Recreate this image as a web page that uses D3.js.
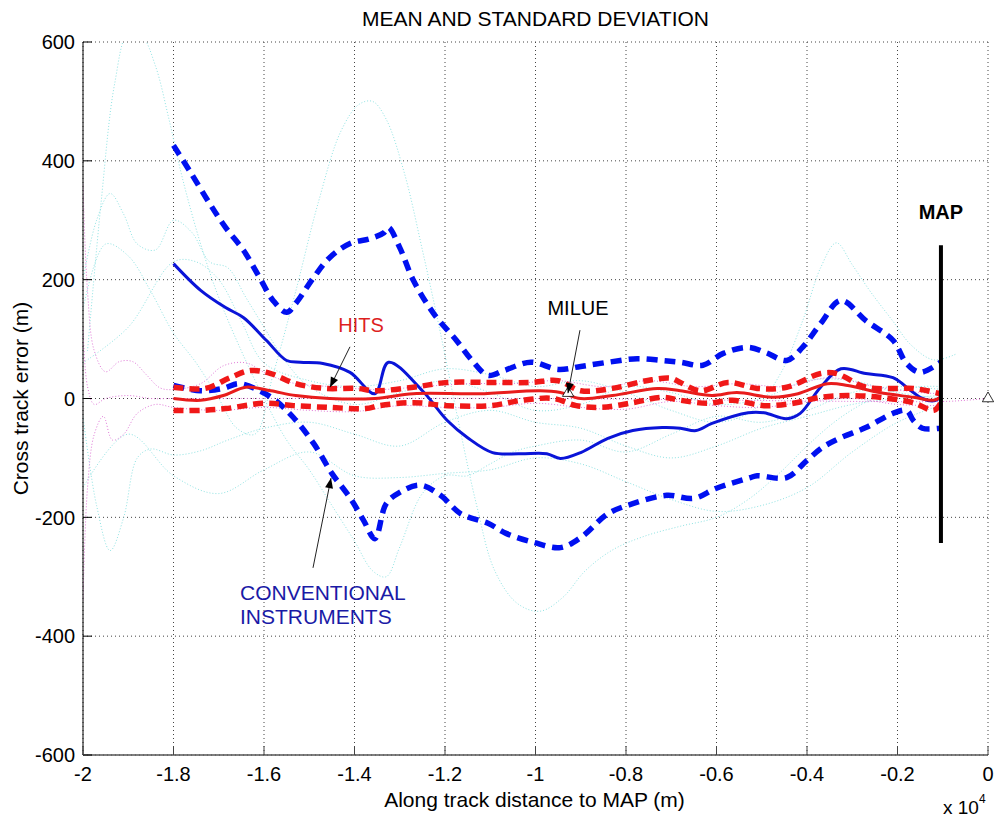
<!DOCTYPE html>
<html>
<head>
<meta charset="utf-8">
<script src="https://cdn.jsdelivr.net/npm/d3@7"></script>
<style>
  body { margin: 0; background: #fff; }
  svg text { font-family: "Liberation Sans", Arial, Helvetica, sans-serif; }
</style>
</head>
<body>
<svg id="chart" width="995" height="818"></svg>
<script>
// ---- data (along track distance in m, cross track error in m) ----
const xTicks = [-20000, -18000, -16000, -14000, -12000, -10000, -8000, -6000, -4000, -2000, 0];
const yTicks = [-600, -400, -200, 0, 200, 400, 600];

const convMean = [[-18000,227],[-17400,182],[-16850,153],[-16450,136],[-15950,98],[-15500,64],[-15200,61],[-14700,59],[-14100,44],[-13550,8],[-13250,61],[-12500,13],[-11950,-37],[-11500,-66],[-10950,-91],[-10350,-93],[-9750,-93],[-9450,-101],[-9000,-91],[-8400,-67],[-7850,-54],[-7200,-49],[-6800,-50],[-6450,-54],[-6100,-42],[-5300,-24],[-4950,-24],[-4450,-34],[-4150,-25],[-3700,19],[-3250,50],[-2700,42],[-2100,35],[-1700,13],[-1450,0],[-1200,-4],[-1050,2]];

const convUpper = [[-18000,426],[-17650,384],[-17200,328],[-16850,288],[-16450,249],[-16100,204],[-15800,165],[-15500,145],[-15300,160],[-14900,204],[-14550,237],[-14100,261],[-13650,269],[-13350,279],[-13250,288],[-13000,254],[-12700,199],[-12250,143],[-11750,98],[-11400,64],[-11050,39],[-10700,47],[-10100,61],[-9500,49],[-9000,54],[-8400,61],[-7750,67],[-7200,64],[-6800,61],[-6300,56],[-5850,76],[-5300,86],[-4900,77],[-4450,64],[-4100,86],[-3700,126],[-3250,165],[-2700,131],[-2100,98],[-1800,59],[-1500,44],[-1050,61]];

const convLower = [[-18000,22],[-17400,13],[-16900,17],[-16550,25],[-16100,13],[-15750,-3],[-15350,-32],[-14900,-76],[-14500,-126],[-14100,-167],[-13800,-205],[-13550,-236],[-13300,-177],[-13000,-158],[-12550,-146],[-12100,-163],[-11650,-194],[-11050,-210],[-10650,-227],[-10050,-242],[-9450,-251],[-9000,-234],[-8400,-194],[-7850,-177],[-7100,-163],[-6500,-168],[-6000,-151],[-5250,-133],[-5100,-130],[-4450,-133],[-4000,-104],[-3650,-82],[-3250,-66],[-2700,-49],[-2100,-25],[-1800,-20],[-1650,-37],[-1450,-50],[-1050,-50]];

const hitsMean = [[-18000,0],[-17400,-3],[-16900,5],[-16400,19],[-15850,13],[-15300,5],[-14550,0],[-13550,0],[-12700,8],[-11250,8],[-9900,13],[-9450,10],[-9000,0],[-8300,5],[-7300,17],[-6800,13],[-6100,5],[-5550,10],[-4750,2],[-4200,8],[-3550,25],[-3100,22],[-2400,10],[-1650,2],[-1200,-3],[-1050,2]];

const hitsUpper = [[-18000,19],[-17300,17],[-16750,35],[-16300,47],[-15850,42],[-15300,25],[-14650,17],[-13950,17],[-13550,13],[-12700,19],[-11950,27],[-11000,27],[-10100,27],[-9500,30],[-9000,13],[-8300,17],[-7550,30],[-7000,34],[-6800,27],[-6350,13],[-5750,27],[-5100,17],[-4450,19],[-3700,42],[-3350,42],[-2700,19],[-2000,17],[-1650,17],[-1050,8]];

const hitsLower = [[-18000,-20],[-17400,-20],[-16850,-17],[-16000,-8],[-15350,-12],[-14550,-15],[-13750,-17],[-13450,-12],[-12700,-7],[-11950,-12],[-11000,-12],[-10300,-3],[-9600,0],[-9100,-12],[-8550,-15],[-7850,-7],[-7200,2],[-6800,-3],[-6200,-8],[-5650,-3],[-4950,-12],[-4300,-8],[-3700,2],[-3100,5],[-2400,2],[-1650,-7],[-1200,-20],[-1050,-8]];

// individual conventional runs (faint)
const conv1 = [[-19900,80],[-19600,330],[-19300,530],[-19000,615],[-18700,610],[-18400,560],[-18100,470],[-17800,370],[-17400,260],[-17000,170],[-16500,80],[-16000,0],[-15500,-70],[-15000,-120],[-14500,-180],[-14000,-240],[-13600,-290],[-13300,-300],[-13000,-250],[-12500,-160],[-12000,-130],[-11500,-130],[-11000,-110],[-10500,-90],[-10000,-80],[-9000,-70],[-8000,-90],[-7000,-60],[-6000,-30],[-5000,-40],[-4000,-20],[-3000,10],[-2000,20],[-1000,15]];
const conv2 = [[-20000,150],[-19500,260],[-19000,240],[-18500,180],[-18000,110],[-17500,60],[-17000,0],[-16600,-50],[-16200,-60],[-15800,40],[-15300,180],[-14800,330],[-14300,450],[-13900,495],[-13600,500],[-13300,470],[-12900,380],[-12500,250],[-12100,110],[-11700,-40],[-11300,-180],[-10900,-290],[-10400,-345],[-9900,-358],[-9400,-335],[-8900,-290],[-8300,-255],[-7600,-232],[-6800,-215],[-6000,-200],[-5300,-170],[-4600,-125],[-4000,-80],[-3400,-40],[-2800,-10],[-2200,10],[-1500,20],[-1000,20]];
const conv3 = [[-20000,-30],[-19700,-180],[-19400,-256],[-19100,-200],[-18800,-100],[-18500,-85],[-18000,-95],[-17400,-88],[-16800,-70],[-16000,-50],[-15000,-40],[-14000,-60],[-13000,-80],[-12000,-40],[-11000,-20],[-10000,-40],[-9000,-50],[-8000,-80],[-7000,-100],[-6000,-80],[-5000,-50],[-4000,-30],[-3000,-10],[-2000,0],[-1000,5]];
const conv4 = [[-20000,200],[-19700,300],[-19400,345],[-19100,310],[-18800,260],[-18400,250],[-18000,300],[-17600,280],[-17200,230],[-16800,220],[-16400,170],[-16000,120],[-15500,60],[-15000,20],[-14000,-10],[-13000,10],[-12000,30],[-11000,10],[-10000,-20],[-9000,-10],[-8000,20],[-7000,10],[-6000,-10],[-5000,0],[-4000,30],[-3000,30],[-2000,10],[-1000,0]];
const conv5 = [[-20000,60],[-19000,120],[-18000,230],[-17500,230],[-17000,200],[-16500,130],[-16000,60],[-15000,30],[-14000,20],[-13000,30],[-12000,50],[-11000,40],[-10000,20],[-9000,30],[-8000,10],[-7000,-20],[-6000,-40],[-5200,-20],[-4600,40],[-4100,130],[-3700,220],[-3350,262],[-3000,225],[-2600,180],[-2100,130],[-1700,90],[-1200,65],[-700,75]];
const conv6 = [[-20000,-150],[-19000,-60],[-18000,-130],[-17000,-160],[-16000,-120],[-15000,-90],[-14000,-130],[-13000,-133],[-12000,-126],[-11000,-120],[-10000,-100],[-9000,-110],[-8000,-140],[-7000,-170],[-6000,-190],[-5000,-180],[-4000,-150],[-3000,-90],[-2000,-40],[-1000,-10]];

// individual HITS runs (faint)
const hits1 = [[-20000,360],[-19900,180],[-19750,80],[-19500,45],[-19200,62],[-18900,62],[-18600,40],[-18300,18],[-18000,15],[-17400,25],[-16900,55],[-16400,60],[-15900,40],[-15300,25],[-14500,20],[-13500,15],[-12500,20],[-11500,25],[-10500,25],[-9500,30],[-8500,20],[-7500,30],[-6500,20],[-5500,25],[-4500,20],[-3500,35],[-2500,20],[-1500,10],[-1000,8]];
const hits2 = [[-20000,-340],[-19900,-150],[-19750,-60],[-19550,-30],[-19350,-70],[-19100,-60],[-18800,-25],[-18400,-10],[-18000,-15],[-17000,-20],[-16000,-15],[-15000,-20],[-14000,-22],[-13000,-12],[-12000,-15],[-11000,-15],[-10000,-8],[-9000,-15],[-8000,-18],[-7000,-5],[-6000,-12],[-5000,-15],[-4000,-5],[-3000,0],[-2000,-10],[-1000,-12]];
const hits3 = [[-20000,120],[-19900,20],[-19750,-10],[-19500,0],[-19000,5],[-18500,0],[-18000,0],[-10000,0],[-1000,-5],[-500,-3],[0,0]];

const markers = [[0,0],[-9280,9]];

// ---- layout ----
const W = 995, H = 818;
const padL = 83, padR = 988, padT = 42, padB = 755;

const svg = d3.select('#chart');
svg.append('rect').attr('width', W).attr('height', H).attr('fill', '#fff');

const x = d3.scaleLinear().domain([-20000, 0]).range([padL, padR]);
const y = d3.scaleLinear().domain([-600, 600]).range([padB, padT]);

const defs = svg.append('defs');
defs.append('clipPath').attr('id', 'plot')
  .append('rect').attr('x', padL).attr('y', padT)
  .attr('width', padR - padL).attr('height', padB - padT);

defs.append('marker')
  .attr('id', 'head')
  .attr('viewBox', '0 -5 10 10')
  .attr('refX', 10).attr('refY', 0)
  .attr('orient', 'auto')
  .attr('markerUnits', 'userSpaceOnUse')
  .attr('markerWidth', 12).attr('markerHeight', 10)
  .append('path')
  .attr('d', 'M0,-4L10,0L0,4Z')
  .attr('fill', '#000');

// grid
const grid = svg.append('g').attr('class', 'grid');
grid.selectAll('line.gx').data(xTicks).enter().append('line')
  .attr('x1', d => x(d)).attr('x2', d => x(d))
  .attr('y1', padT).attr('y2', padB)
  .attr('stroke', '#444').attr('stroke-width', 1).attr('stroke-dasharray', '1,3');
grid.selectAll('line.gy').data(yTicks).enter().append('line')
  .attr('y1', d => y(d)).attr('y2', d => y(d))
  .attr('x1', padL).attr('x2', padR)
  .attr('stroke', '#444').attr('stroke-width', 1).attr('stroke-dasharray', '1,3');

const line = d3.line()
  .x(d => x(d[0]))
  .y(d => y(d[1]))
  .curve(d3.curveCatmullRom.alpha(0.5));

const plot = svg.append('g').attr('clip-path', 'url(#plot)');

function draw(data, color, width, dash) {
  plot.append('path')
    .datum(data)
    .attr('d', line)
    .attr('fill', 'none')
    .attr('stroke', color)
    .attr('stroke-width', width)
    .attr('stroke-dasharray', dash || null)
    .attr('stroke-linejoin', 'round');
}

// faint runs
[conv1, conv2, conv3, conv4, conv5, conv6].forEach(d => draw(d, '#8fe3e3', 1, '1,2'));
[hits1, hits2, hits3].forEach(d => draw(d, '#e07ad8', 1, '1,2'));

// conventional mean and std
draw(convUpper, '#0010f0', 5.5, '11,7');
draw(convLower, '#0010f0', 5.5, '11,7');
draw(convMean, '#0a14d8', 3);

// HITS mean and std
draw(hitsUpper, '#f01818', 5.5, '10,6');
draw(hitsLower, '#f01818', 5.5, '10,6');
draw(hitsMean, '#e81c1c', 3);

// MAP line
svg.append('line')
  .attr('x1', x(-1040)).attr('x2', x(-1040))
  .attr('y1', y(258)).attr('y2', y(-243))
  .attr('stroke', '#000').attr('stroke-width', 4);
svg.append('text')
  .attr('x', x(-1040)).attr('y', y(302))
  .attr('text-anchor', 'middle')
  .attr('font-size', 20).attr('font-weight', 'bold')
  .text('MAP');

// triangle markers
svg.selectAll('path.mk').data(markers).enter().append('path')
  .attr('transform', d => `translate(${x(d[0])},${y(d[1])})`)
  .attr('d', d3.symbol().type(d3.symbolTriangle).size(55))
  .attr('fill', '#fff').attr('stroke', '#000').attr('stroke-width', 0.8);

// annotations
const arrows = [
  { from: [-14100, 87], to: [-14541, 19] },
  { from: [-9017, 115], to: [-9282, 9] },
  { from: [-14917, -285], to: [-14519, -134] }
];
svg.selectAll('line.arrow').data(arrows).enter().append('line')
  .attr('x1', d => x(d.from[0])).attr('y1', d => y(d.from[1]))
  .attr('x2', d => x(d.to[0])).attr('y2', d => y(d.to[1]))
  .attr('stroke', '#222').attr('stroke-width', 1)
  .attr('marker-end', 'url(#head)');

svg.append('text')
  .attr('x', x(-13856)).attr('y', y(112))
  .attr('text-anchor', 'middle').attr('font-size', 20)
  .attr('fill', '#dd1f1f').text('HITS');
svg.append('text')
  .attr('x', x(-9061)).attr('y', y(140))
  .attr('text-anchor', 'middle').attr('font-size', 20)
  .attr('fill', '#000').text('MILUE');
const conv = svg.append('text')
  .attr('font-size', 21).attr('fill', '#1a1aa6');
conv.append('tspan').attr('x', x(-16530)).attr('y', y(-339)).text('CONVENTIONAL');
conv.append('tspan').attr('x', x(-16530)).attr('y', y(-380)).text('INSTRUMENTS');

// axes (MATLAB style: inward ticks, left and bottom only)
svg.append('line').attr('x1', padL).attr('x2', padL).attr('y1', padT).attr('y2', padB)
  .attr('stroke', '#000').attr('stroke-width', 1);
svg.append('line').attr('x1', padL).attr('x2', padR).attr('y1', padB).attr('y2', padB)
  .attr('stroke', '#555').attr('stroke-width', 1.5);

svg.selectAll('line.ty').data(yTicks).enter().append('line')
  .attr('x1', padL).attr('x2', padL + 9)
  .attr('y1', d => y(d)).attr('y2', d => y(d))
  .attr('stroke', '#000');
svg.selectAll('line.tx').data(xTicks).enter().append('line')
  .attr('x1', d => x(d)).attr('x2', d => x(d))
  .attr('y1', padB).attr('y2', padB - 9)
  .attr('stroke', '#444');

svg.selectAll('text.ly').data(yTicks).enter().append('text')
  .attr('x', padL - 8).attr('y', d => y(d))
  .attr('dy', '0.36em')
  .attr('text-anchor', 'end').attr('font-size', 20)
  .text(d => String(d));
svg.selectAll('text.lx').data(xTicks).enter().append('text')
  .attr('x', d => x(d)).attr('y', padB + 26)
  .attr('text-anchor', 'middle').attr('font-size', 20)
  .text(d => String(+(d / 1e4).toFixed(1)));

// titles
svg.append('text')
  .attr('x', (padL + padR) / 2).attr('y', 26)
  .attr('text-anchor', 'middle').attr('font-size', 21)
  .text('MEAN AND STANDARD DEVIATION');
svg.append('text')
  .attr('x', (padL + padR) / 2 - 1).attr('y', 807)
  .attr('text-anchor', 'middle').attr('font-size', 21)
  .text('Along track distance to MAP (m)');
svg.append('text')
  .attr('transform', `translate(28,${(padT + padB) / 2}) rotate(-90)`)
  .attr('text-anchor', 'middle').attr('font-size', 21)
  .text('Cross track error (m)');

const exp = svg.append('text').attr('x', 943).attr('y', 814).attr('font-size', 19);
exp.append('tspan').text('x 10');
exp.append('tspan').attr('font-size', 12).attr('dy', -11).text('4');
</script>
</body>
</html>
